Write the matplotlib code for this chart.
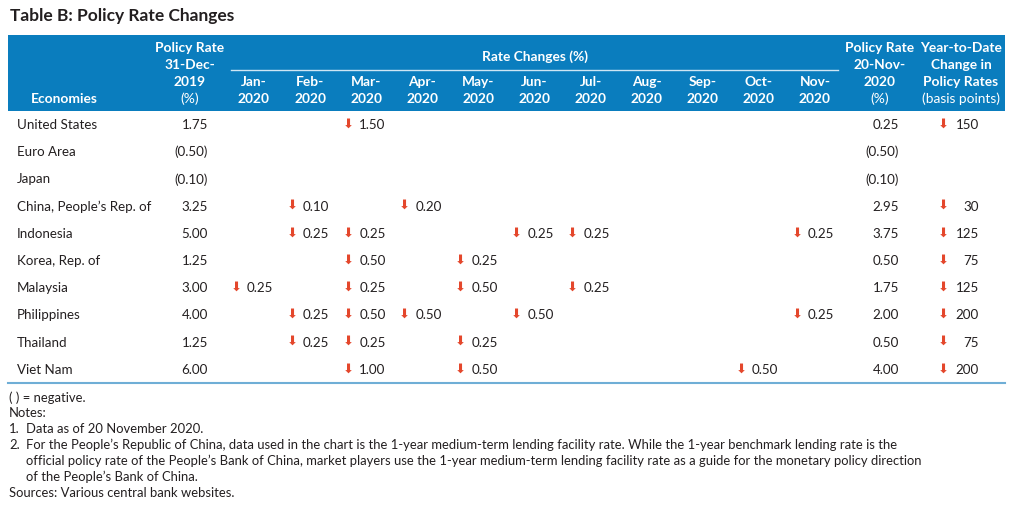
import matplotlib
matplotlib.use("Agg")
import matplotlib.pyplot as plt
from matplotlib.patches import Rectangle

# ---------------- data ----------------
economies = ["United States", "Euro Area", "Japan", "China, People\u2019s Rep. of", "Indonesia",
             "Korea, Rep. of", "Malaysia", "Philippines", "Thailand", "Viet Nam"]
rate_dec2019 = ["1.75", "(0.50)", "(0.10)", "3.25", "5.00", "1.25", "3.00", "4.00", "1.25", "6.00"]
months = ["Jan", "Feb", "Mar", "Apr", "May", "Jun", "Jul", "Aug", "Sep", "Oct", "Nov"]
# rate cuts per month (None = no change)
changes = [
    [None, None, "1.50", None, None, None, None, None, None, None, None],
    [None] * 11,
    [None] * 11,
    [None, "0.10", None, "0.20", None, None, None, None, None, None, None],
    [None, "0.25", "0.25", None, None, "0.25", "0.25", None, None, None, "0.25"],
    [None, None, "0.50", None, "0.25", None, None, None, None, None, None],
    ["0.25", None, "0.25", None, "0.50", None, "0.25", None, None, None, None],
    [None, "0.25", "0.50", "0.50", None, "0.50", None, None, None, None, "0.25"],
    [None, "0.25", "0.25", None, "0.25", None, None, None, None, None, None],
    [None, None, "1.00", None, "0.50", None, None, None, None, "0.50", None],
]
rate_nov2020 = ["0.25", "(0.50)", "(0.10)", "2.95", "3.75", "0.50", "1.75", "2.00", "0.50", "4.00"]
ytd_bp = ["150", None, None, "30", "125", "75", "125", "200", "75", "200"]

title = "Table B: Policy Rate Changes"
# (number label, text, indented)
notes = [
    ("", "( ) = negative.", False),
    ("", "Notes:", False),
    ("1.", "Data as of 20 November 2020.", True),
    ("2.", "For the People\u2019s Republic of China, data used in the chart is the 1-year medium-term lending facility rate. While the 1-year benchmark lending rate is the", True),
    ("", "official policy rate of the People\u2019s Bank of China, market players use the 1-year medium-term lending facility rate as a guide for the monetary policy direction", True),
    ("", "of the People\u2019s Bank of China.", True),
    ("", "Sources: Various central bank websites.", False),
]

# ---------------- style ----------------
FONT = "Lato"
BLUE = "#0A7DBE"
RED = "#E4472C"
TXT = "#231F20"
LINE = "#6FAED6"

fig = plt.figure(figsize=(10.13, 5.07), dpi=100)
ax = fig.add_axes([0, 0, 1, 1])
ax.set_xlim(0, 1013)
ax.set_ylim(507, 0)
ax.axis("off")

ax.text(10, 16, title, fontsize=12.5, fontweight="bold", family=FONT, color=TXT, va="center", ha="left")

# header band
ax.add_patch(Rectangle((8, 35), 997, 76, facecolor=BLUE, edgecolor="none"))
ax.plot([231, 838], [70, 70], color="#CFE6F4", lw=1.0)

hfs = 9.9
def htext(x, y, s, bold=True):
    ax.text(x, y, s, fontsize=hfs, fontweight="bold" if bold else "normal", family=FONT,
            color="white", ha="center", va="center")

header_rows = [48, 65, 82, 99]
htext(64, 99, "Economies")
for y, s, b in zip(header_rows, ["Policy Rate", "31-Dec-", "2019", "(%)"], [1, 1, 1, 0]):
    htext(190, y, s, bool(b))
htext(535, 57, "Rate Changes (%)")
month_x = [254 + i * 56.1 for i in range(len(months))]
for x, m in zip(month_x, months):
    htext(x, 82, m + "-")
    htext(x, 99, "2020")
for y, s, b in zip(header_rows, ["Policy Rate", "20-Nov-", "2020", "(%)"], [1, 1, 1, 0]):
    htext(880, y, s, bool(b))
for y, s, b in zip(header_rows, ["Year-to-Date", "Change in", "Policy Rates", "(basis points)"], [1, 1, 1, 0]):
    htext(961, y, s, bool(b))

# body
bfs = 9.6
row_y = [125 + i * 27.2 for i in range(len(economies))]

def arrow(x, y):
    ax.text(x, y - 1, "\u2B07", fontsize=9.5, family="DejaVu Sans", color=RED,
            ha="center", va="center")

for i, y in enumerate(row_y):
    ax.text(17, y, economies[i], fontsize=bfs, family=FONT, color=TXT, ha="left", va="center")
    ax.text(208, y, rate_dec2019[i], fontsize=bfs, family=FONT, color=TXT, ha="right", va="center")
    for j, x in enumerate(month_x):
        v = changes[i][j]
        if v is not None:
            arrow(x - 18, y)
            ax.text(x - 7, y, v, fontsize=bfs, family=FONT, color=TXT, ha="left", va="center")
    ax.text(899, y, rate_nov2020[i], fontsize=bfs, family=FONT, color=TXT, ha="right", va="center")
    if ytd_bp[i] is not None:
        arrow(943, y)
        ax.text(979, y, ytd_bp[i], fontsize=bfs, family=FONT, color=TXT, ha="right", va="center")

ax.plot([8, 1005], [383, 383], color=LINE, lw=1.5)

note_y = [398, 413, 429, 445, 461, 477, 493]
nfs = 9.4
for y, (num, s, indent) in zip(note_y, notes):
    if num:
        ax.text(9, y, num, fontsize=nfs, family=FONT, color=TXT, ha="left", va="center")
    ax.text(26 if indent else 9, y, s, fontsize=nfs, family=FONT, color=TXT, ha="left", va="center")

fig.savefig("out.png", dpi=100)
